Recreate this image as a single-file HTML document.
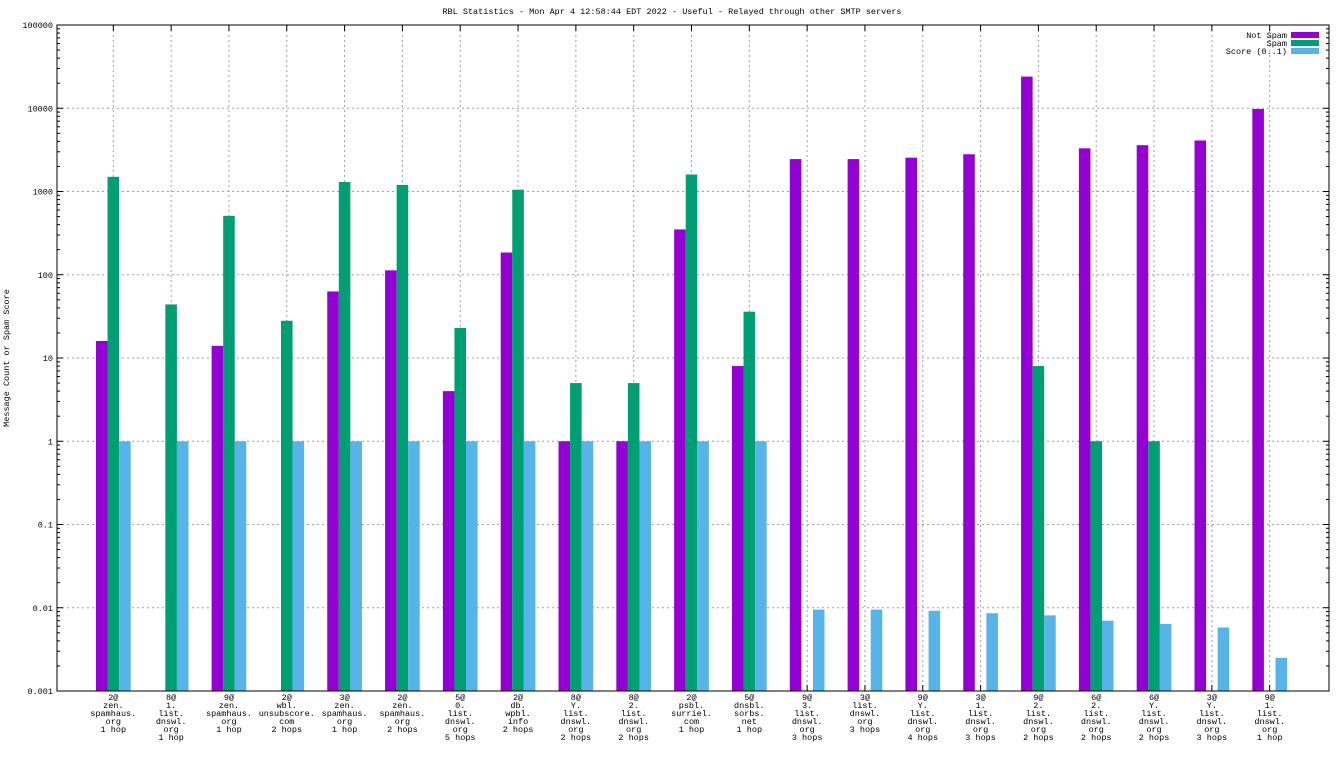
<!DOCTYPE html>
<html><head><meta charset="utf-8"><style>
html,body{margin:0;padding:0;background:#fff;}
svg text{font-family:"Liberation Mono",monospace;font-size:8.5px;fill:#000;}
</style></head><body>
<svg id="chart" width="1344" height="756" xmlns="http://www.w3.org/2000/svg"></svg>
<script>
const categories = [
["2@","zen.","spamhaus.","org","1 hop"],
["8@","1.","list.","dnswl.","org","1 hop"],
["9@","zen.","spamhaus.","org","1 hop"],
["2@","wbl.","unsubscore.","com","2 hops"],
["3@","zen.","spamhaus.","org","1 hop"],
["2@","zen.","spamhaus.","org","2 hops"],
["5@","0.","list.","dnswl.","org","5 hops"],
["2@","db.","wpbl.","info","2 hops"],
["8@","Y.","list.","dnswl.","org","2 hops"],
["8@","2.","list.","dnswl.","org","2 hops"],
["2@","psbl.","surriel.","com","1 hop"],
["5@","dnsbl.","sorbs.","net","1 hop"],
["9@","3.","list.","dnswl.","org","3 hops"],
["3@","list.","dnswl.","org","3 hops"],
["9@","Y.","list.","dnswl.","org","4 hops"],
["3@","1.","list.","dnswl.","org","3 hops"],
["9@","2.","list.","dnswl.","org","2 hops"],
["6@","2.","list.","dnswl.","org","2 hops"],
["6@","Y.","list.","dnswl.","org","2 hops"],
["3@","Y.","list.","dnswl.","org","3 hops"],
["9@","1.","list.","dnswl.","org","1 hop"]
];
const notSpam = [16,0,14,0,63,113,4,185,1,1,350,8,2450,2450,2550,2800,24000,3300,3600,4100,9800];
const spam = [1500,44,510,28,1300,1200,23,1050,5,5,1600,36,0,0,0,0,8,1,1,0,0];
const score = [1,1,1,1,1,1,1,1,1,1,1,1,0.0095,0.0095,0.0092,0.0086,0.0081,0.007,0.0064,0.0058,0.0025];
const yTicks = [0.001,0.01,0.1,1,10,100,1000,10000,100000];
const yTickLabels = ["0.001","0.01","0.1","1","10","100","1000","10000","100000"];
const seriesNames = ["Not Spam","Spam","Score (0..1)"];
const colors = ["#9400d3","#009e73","#56b4e9"];

const svg = document.getElementById('chart');
const NS = "http://www.w3.org/2000/svg";
const L=57, R=1329, T=25, B=691;
const xMin=-1, xMax=21;
function xs(v){return L-1.5+(v-xMin)/(xMax-xMin)*(R-L);}
function ys(v){return B-(Math.log10(v)+3)/8*(B-T);}
function el(tag, attrs, parent){const e=document.createElementNS(NS,tag);for(const k in attrs)e.setAttribute(k,attrs[k]);(parent||svg).appendChild(e);return e;}

el('text',{x:672,y:14,'text-anchor':'middle'}).textContent="RBL Statistics - Mon Apr  4 12:58:44 EDT 2022 - Useful - Relayed through other SMTP servers";
const yt = el('text',{x:9,y:358,'text-anchor':'middle',transform:'rotate(-90 9 358)'});
yt.textContent="Message Count or Spam Score";



yTicks.forEach((v,i)=>{
  const y=ys(v);
  if(i>0&&i<yTicks.length-1){
    const g=el('line',{x1:L,x2:R,y1:y,y2:y,stroke:'#a0a0a0','stroke-dasharray':'2,3','stroke-width':1});
    
    
  }
  el('line',{x1:L,x2:L+6,y1:y,y2:y,stroke:'#000'});
  el('line',{x1:R,x2:R-6,y1:y,y2:y,stroke:'#000'});
  if(i<yTicks.length-1){
    for(let m=2;m<10;m++){const ym=ys(v*m);
      el('line',{x1:L,x2:L+3,y1:ym,y2:ym,stroke:'#000'});
      el('line',{x1:R,x2:R-3,y1:ym,y2:ym,stroke:'#000'});}
  }
  const t=el('text',{x:L-4,y:y+3,'text-anchor':'end'});
  t.textContent=yTickLabels[i];
  
  
});

categories.forEach((lines,i)=>{
  const x=xs(i);
  el('line',{x1:x,x2:x,y1:T,y2:B,stroke:'#a0a0a0','stroke-dasharray':'2,3','stroke-width':1});
  el('line',{x1:x,x2:x,y1:B,y2:B-6,stroke:'#000'});
  el('line',{x1:x,x2:x,y1:T,y2:T+6,stroke:'#000'});
  const t=el('text',{x:x,y:700,'text-anchor':'middle'});
  
  
  lines.forEach((s,j)=>{const ts=el('tspan',{x:x,y:700+j*8},t);ts.textContent=s;});
});

const series=[notSpam,spam,score];
const w=0.2;
series.forEach((arr,si)=>{
  arr.forEach((v,i)=>{
    if(!(v>0))return;
    const x0=xs(i+(si-1)*w-w/2), x1=xs(i+(si-1)*w+w/2);
    const y=ys(v);
    const r=el('rect',{x:x0,y:y,width:x1-x0,height:B-y,fill:colors[si]});
    
    
  });
});

el('rect',{x:L,y:T,width:R-L,height:B-T,fill:'none',stroke:'#000','stroke-width':1});

seriesNames.forEach((n,i)=>{
  const y=35+i*8;
  const t=el('text',{x:1287,y:y+3,'text-anchor':'end'});
  t.textContent=n;
  
  
  el('rect',{x:1291,y:y-3,width:28,height:6,fill:colors[i]});
});
</script>
</body></html>
